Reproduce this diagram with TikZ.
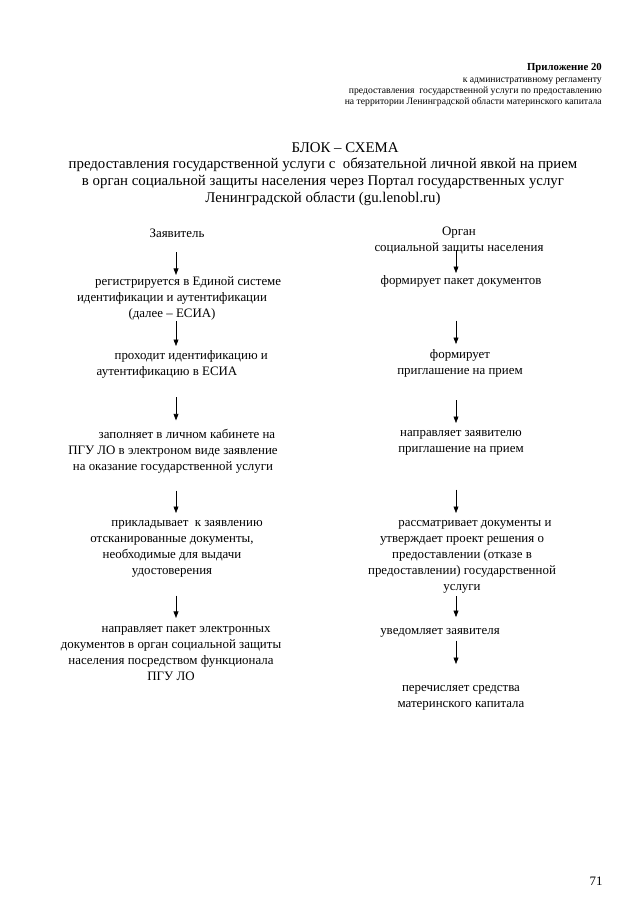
\documentclass[tikz,border=0pt]{standalone}
\usepackage{fontspec}
\setmainfont{Liberation Serif}
\usetikzlibrary{arrows.meta,positioning,calc}

\tikzset{
  txt/.style={inner sep=0pt, align=center, font=\fontsize{12}{14.9}\selectfont,
    execute at begin node=\strut, execute at end node=\strut},
  arr/.style={-{Triangle[length=6pt,width=4.5pt]}, line width=0.6pt}
}

\begin{document}
\begin{tikzpicture}[x=0.93pt, y=-0.93pt]
                    % Page
                    \path[use as bounding box, fill=white] (0,0) rectangle (640,905);
                    \coordinate (colL) at (176,0);
                    \coordinate (colR) at (456,0);

                    % Header
                    \node[anchor=east, inner sep=0pt, font=\fontsize{10}{12}\selectfont\bfseries] (pril) at (602,68) {Приложение 20};
                    \node[anchor=north east, inner sep=0pt, align=right, font=\fontsize{9}{10.3}\selectfont] (hdr) at (602,78)
                      {к административному регламенту\\
                       предоставления\ \ государственной услуги по предоставлению\\
                       на территории Ленинградской области материнского капитала};

                    % Title
                    \node[anchor=north, inner sep=0pt, align=center, font=\fontsize{13.8}{15.5}\selectfont] (title) at (323,142)
                      {\hspace*{41pt}БЛОК – СХЕМА\\
                       предоставления государственной услуги с\ \ обязательной личной явкой на прием\\
                       в орган социальной защиты населения через Портал государственных услуг\\
                       Ленинградской области (gu.lenobl.ru)};

                    % Applicant column
                    \node[txt, anchor=north] (zayav) at (177,226) {Заявитель};
                    \node[txt, anchor=north] (reg) at (172,276)
                      {\hspace*{30pt}регистрируется в Единой системе\\идентификации и аутентификации\\(далее – ЕСИА)};
                    \node[txt, anchor=north] (ident) at (167,350)
                      {\hspace*{45pt}проходит идентификацию и\\аутентификацию в ЕСИА};
                    \node[txt, anchor=north] (zapoln) at (173,429)
                      {\hspace*{26pt}заполняет в личном кабинете на\\ПГУ ЛО в электроном виде заявление\\на оказание государственной услуги};
                    \node[txt, anchor=north] (priklad) at (172,520)
                      {\hspace*{28pt}прикладывает\ \ к заявлению\\отсканированные документы,\\необходимые для выдачи\\удостоверения};
                    \node[txt, anchor=north] (napr) at (171,626)
                      {\hspace*{28pt}направляет пакет электронных\\документов в орган социальной защиты\\населения посредством функционала\\ПГУ ЛО};

                    % Authority column
                    \node[txt, anchor=north] (organ) at (459,227) {Орган\\социальной защиты населения};
                    \node[txt, anchor=north] (paket) at (461,273) {формирует пакет документов};
                    \node[txt, anchor=north] (priglas) at (460,349) {формирует\\приглашение на прием};
                    \node[txt, anchor=north] (napravZ) at (461,430) {направляет заявителю\\приглашение на прием};
                    \node[txt, anchor=north] (rassm) at (462,520)
                      {\hspace*{24pt}рассматривает документы и\\утверждает проект решения о\\предоставлении (отказе в\\предоставлении) государственной\\услуги};
                    \node[txt, anchor=north] (uvedom) at (440,623) {уведомляет заявителя};
                    \node[txt, anchor=north] (perech) at (461,685) {перечисляет средства\\материнского капитала};

                    % Arrows, applicant
                    \draw[arr, shorten <=9.3pt, shorten >=1pt] (zayav.south -| colL) -- (reg.north -| colL);
                    \draw[arr, shorten <=-1pt, shorten >=3.7pt] (reg.south -| colL) -- (ident.north -| colL);
                    \draw[arr, shorten <=16pt, shorten >=8pt] (ident.south -| colL) -- (zapoln.north -| colL);
                    \draw[arr, shorten <=14pt, shorten >=6.5pt] (zapoln.south -| colL) -- (priklad.north -| colL);
                    \draw[arr, shorten <=15pt, shorten >=7.5pt] (priklad.south -| colL) -- (napr.north -| colL);

                    % Arrows, authority
                    \draw[arr, shorten <=-6.5pt] (organ.south -| colR) -- (paket.north -| colR);
                    \draw[arr, shorten <=29pt, shorten >=4.6pt] (paket.south -| colR) -- (priglas.north -| colR);
                    \draw[arr, shorten <=19.5pt, shorten >=6.5pt] (priglas.south -| colR) -- (napravZ.north -| colR);
                    \draw[arr, shorten <=30pt, shorten >=6.5pt] (napravZ.south -| colR) -- (rassm.north -| colR);
                    \draw[arr, shorten <=1pt, shorten >=5.5pt] (rassm.south -| colR) -- (uvedom.north -| colR);
                    \draw[arr, shorten <=1pt, shorten >=19.5pt] (uvedom.south -| colR) -- (perech.north -| colR);

                    % Page number
                    \node[txt] (pnum) at (596,882) {71};
                \end{tikzpicture}
\end{document}
